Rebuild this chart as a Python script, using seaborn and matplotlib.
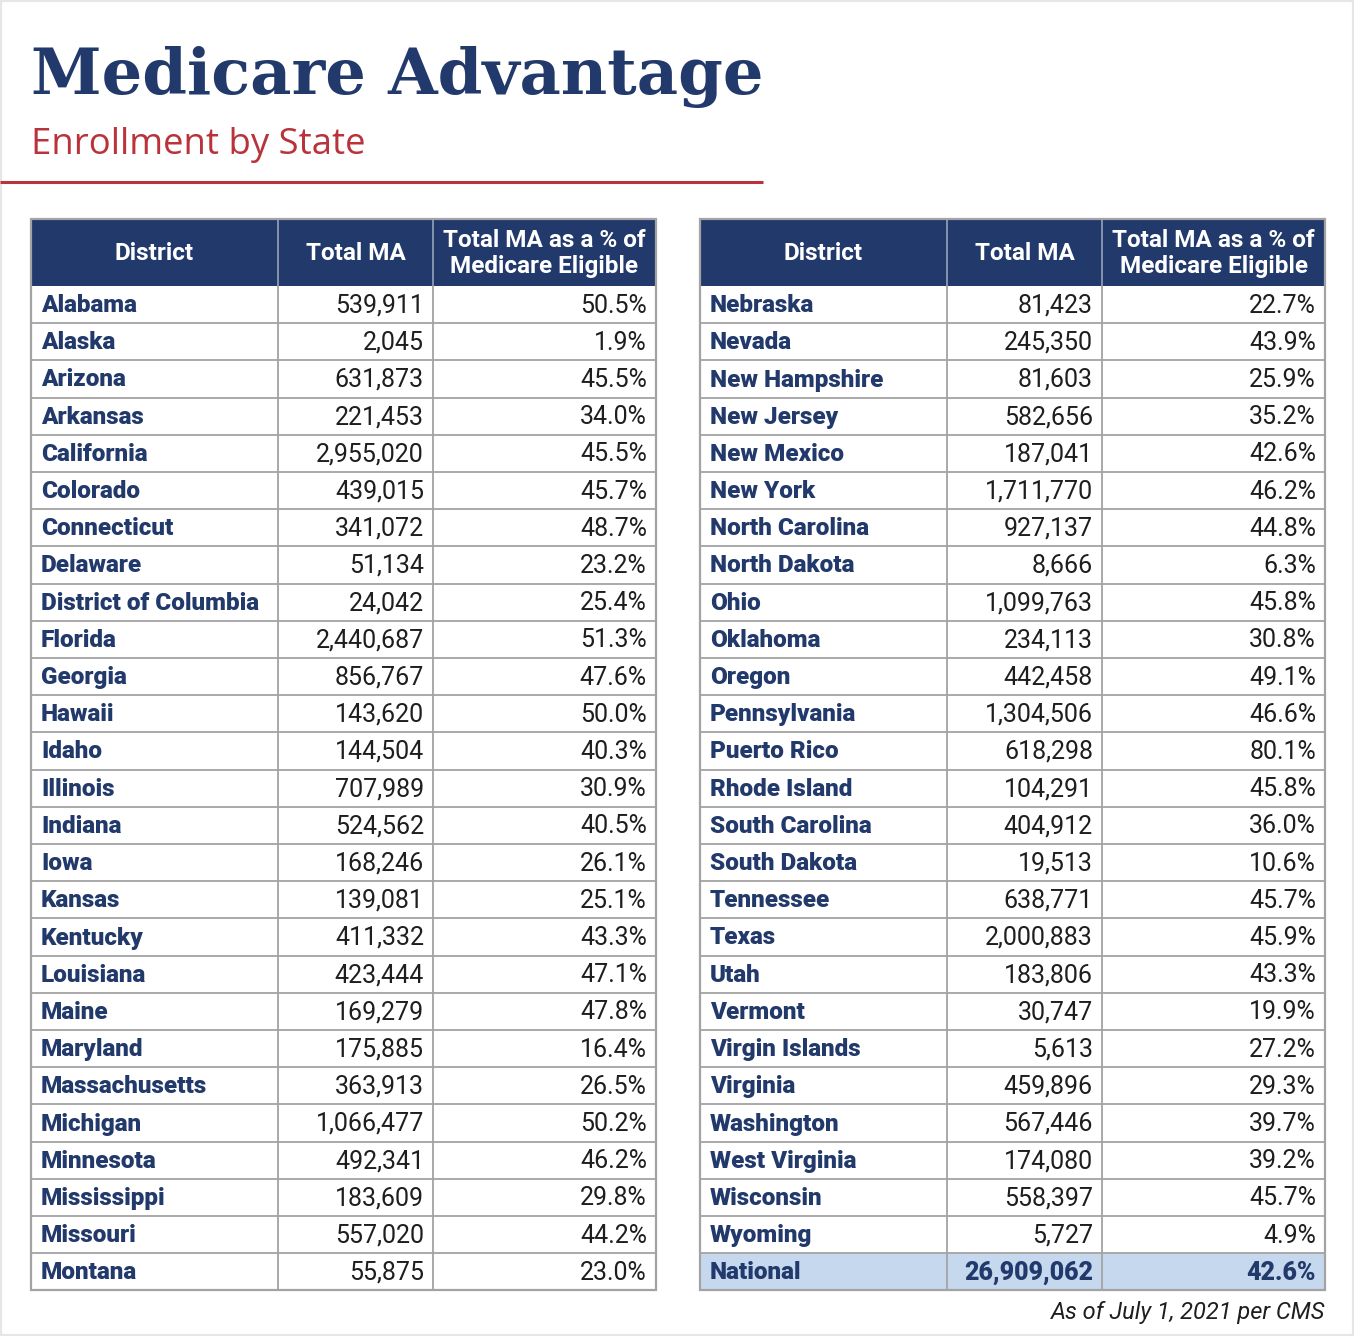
import matplotlib
matplotlib.use("Agg")
import matplotlib.pyplot as plt
from matplotlib.patches import Rectangle
import seaborn as sns
import pandas as pd

sns.set_theme(style="white")
plt.rcParams['font.family'] = ['Roboto', 'DejaVu Sans']

# ---- data ----
left_states = ["Alabama", "Alaska", "Arizona", "Arkansas", "California", "Colorado",
               "Connecticut", "Delaware", "District of Columbia", "Florida", "Georgia",
               "Hawaii", "Idaho", "Illinois", "Indiana", "Iowa", "Kansas", "Kentucky",
               "Louisiana", "Maine", "Maryland", "Massachusetts", "Michigan", "Minnesota",
               "Mississippi", "Missouri", "Montana"]
left_total = [539911, 2045, 631873, 221453, 2955020, 439015, 341072, 51134, 24042,
              2440687, 856767, 143620, 144504, 707989, 524562, 168246, 139081, 411332,
              423444, 169279, 175885, 363913, 1066477, 492341, 183609, 557020, 55875]
left_pct = [50.5, 1.9, 45.5, 34.0, 45.5, 45.7, 48.7, 23.2, 25.4, 51.3, 47.6, 50.0, 40.3,
            30.9, 40.5, 26.1, 25.1, 43.3, 47.1, 47.8, 16.4, 26.5, 50.2, 46.2, 29.8, 44.2, 23.0]

right_states = ["Nebraska", "Nevada", "New Hampshire", "New Jersey", "New Mexico",
                "New York", "North Carolina", "North Dakota", "Ohio", "Oklahoma", "Oregon",
                "Pennsylvania", "Puerto Rico", "Rhode Island", "South Carolina",
                "South Dakota", "Tennessee", "Texas", "Utah", "Vermont", "Virgin Islands",
                "Virginia", "Washington", "West Virginia", "Wisconsin", "Wyoming", "National"]
right_total = [81423, 245350, 81603, 582656, 187041, 1711770, 927137, 8666, 1099763,
               234113, 442458, 1304506, 618298, 104291, 404912, 19513, 638771, 2000883,
               183806, 30747, 5613, 459896, 567446, 174080, 558397, 5727, 26909062]
right_pct = [22.7, 43.9, 25.9, 35.2, 42.6, 46.2, 44.8, 6.3, 45.8, 30.8, 49.1, 46.6, 80.1,
             45.8, 36.0, 10.6, 45.7, 45.9, 43.3, 19.9, 27.2, 29.3, 39.7, 39.2, 45.7, 4.9, 42.6]

headers = ["District", "Total MA", "Total MA as a % of\nMedicare Eligible"]

NAVY = "#22396b"
RED = "#b8333a"
GRID = "#a3a3a3"
HILITE = "#c6d8ee"
TXT = "#1e1e1e"

fig = plt.figure(figsize=(13.54, 13.36), dpi=100)
ax = fig.add_axes([0, 0, 1, 1])
ax.set_xlim(0, 1354)
ax.set_ylim(1336, 0)
ax.axis("off")

# title block
ax.text(31, 94, "Medicare Advantage", family=["DejaVu Serif"], fontweight="bold",
        fontsize=46, color=NAVY, va="baseline", ha="left")
ax.text(31, 154, "Enrollment by State", family=["Open Sans", "DejaVu Sans"],
        fontsize=26.3, color=RED, va="baseline", ha="left")
ax.plot([0, 763], [182, 182], color=RED, lw=2.2, solid_capstyle="butt")

# light frame like the source screenshot
ax.add_patch(Rectangle((0, 0), 1354, 1336, fill=False, ec="#e6e6e6", lw=3))


def draw_table(x0, states, totals, pcts, highlight_last=False):
    df = pd.DataFrame({"state": states, "total": totals, "pct": pcts})
    cols = [x0, x0 + 247, x0 + 402, x0 + 625]
    top, head_h, row_h = 219, 67, 37.2
    n = len(df)
    bottom = top + head_h + n * row_h

    ax.add_patch(Rectangle((cols[0], top), cols[-1] - cols[0], head_h,
                           fc=NAVY, ec="none", zorder=1))
    if highlight_last:
        ax.add_patch(Rectangle((cols[0], top + head_h + (n - 1) * row_h),
                               cols[-1] - cols[0], row_h, fc=HILITE, ec="none", zorder=1))

    for j, h in enumerate(headers):
        cx = (cols[j] + cols[j + 1]) / 2
        ax.text(cx, top + head_h / 2 + 1, h, ha="center", va="center", color="white",
                fontsize=17.5, fontweight="bold", linespacing=1.15, zorder=3)

    for i, r in df.iterrows():
        cy = top + head_h + (i + 0.5) * row_h + 1
        bold_row = highlight_last and i == n - 1
        ax.text(cols[0] + 10, cy, r["state"], ha="left", va="center", color=NAVY,
                fontsize=17.5, fontweight="heavy", zorder=3)
        ax.text(cols[2] - 9, cy, f"{int(r['total']):,}", ha="right", va="center",
                color=NAVY if bold_row else TXT, fontsize=18,
                fontweight="heavy" if bold_row else "normal", zorder=3)
        ax.text(cols[3] - 9, cy, f"{r['pct']:.1f}%", ha="right", va="center",
                color=NAVY if bold_row else TXT, fontsize=18,
                fontweight="heavy" if bold_row else "normal", zorder=3)

    # grid
    ys = [top + head_h + k * row_h for k in range(1, n)]
    ax.hlines(ys, cols[0], cols[-1], color=GRID, lw=1.3, zorder=2)
    ax.vlines(cols[1:-1], top + head_h, bottom, color=GRID, lw=1.3, zorder=2)
    ax.vlines(cols[1:-1], top, top + head_h, color="#8f9bb5", lw=1.3, zorder=2)
    ax.add_patch(Rectangle((cols[0], top), cols[-1] - cols[0], bottom - top,
                           fill=False, ec=GRID, lw=1.6, zorder=2))


draw_table(31, left_states, left_total, left_pct)
draw_table(700, right_states, right_total, right_pct, highlight_last=True)

ax.text(1325, 1312, "As of July 1, 2021 per CMS", ha="right", va="center",
        fontsize=17, style="italic", color=TXT)

fig.savefig("out.png", dpi=100)
